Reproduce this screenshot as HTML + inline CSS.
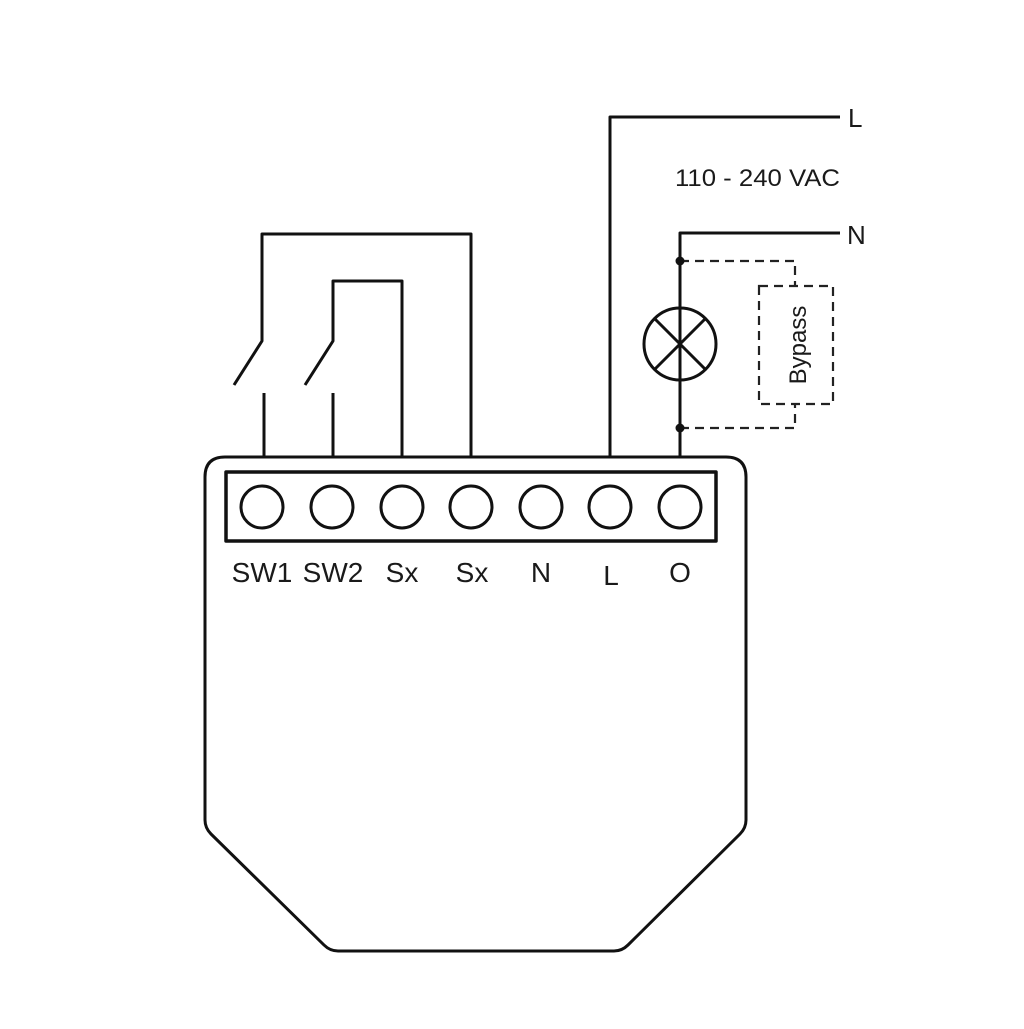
<!DOCTYPE html>
<html><head><meta charset="utf-8"><style>
html,body{margin:0;padding:0;background:#fff;}
svg text{font-family:"Liberation Sans",sans-serif;fill:#1a1a1a;}
</style></head><body>
<svg width="1024" height="1024" viewBox="0 0 1024 1024" xmlns="http://www.w3.org/2000/svg">
<g fill="none" stroke="#111" stroke-width="3" stroke-linejoin="round">
<!-- body -->
<path d="M225 457 H726 Q746 457 746 477 V820 Q746 828 740 834 L628 945 Q622 951 614 951 H338 Q330 951 324 945 L211 834 Q205 828 205 820 V477 Q205 457 225 457 Z"/>
<rect x="226" y="472" width="490" height="69" stroke-width="3.5"/>
<circle cx="262" cy="507" r="21"/>
<circle cx="332" cy="507" r="21"/>
<circle cx="402" cy="507" r="21"/>
<circle cx="471" cy="507" r="21"/>
<circle cx="541" cy="507" r="21"/>
<circle cx="610" cy="507" r="21"/>
<circle cx="680" cy="507" r="21"/>
<!-- switch wires -->
<path d="M264 457 V393"/>
<path d="M234 385 L262 341 V234 H471 V457"/>
<path d="M333 457 V393"/>
<path d="M305 385 L333 341 V281 H402 V457"/>
<!-- L / N -->
<path d="M610 457 V117 H840"/>
<path d="M680 457 V233 H840"/>
<circle cx="680" cy="344" r="36"/>
<path d="M655 319 L705 369 M705 319 L655 369"/>
</g>
<g fill="none" stroke="#222" stroke-width="2.2" stroke-dasharray="9,6">
<path d="M680 261 H795 V285"/>
<path d="M680 428 H795 V404"/>
<rect x="759" y="286" width="74" height="118"/>
</g>
<circle cx="680" cy="261" r="4.5" fill="#111"/>
<circle cx="680" cy="428" r="4.5" fill="#111"/>
<text x="848" y="127" font-size="26">L</text>
<text x="847" y="244" font-size="26">N</text>
<text x="675" y="186" font-size="24" textLength="165" lengthAdjust="spacingAndGlyphs">110 - 240 VAC</text>
<text transform="translate(806 345) rotate(-90)" font-size="24" text-anchor="middle">Bypass</text>
<g font-size="28" text-anchor="middle">
<text x="262" y="582">SW1</text>
<text x="333" y="582">SW2</text>
<text x="402" y="582">Sx</text>
<text x="472" y="582">Sx</text>
<text x="541" y="582">N</text>
<text x="611" y="585">L</text>
<text x="680" y="582">O</text>
</g>
</svg>
</body></html>
